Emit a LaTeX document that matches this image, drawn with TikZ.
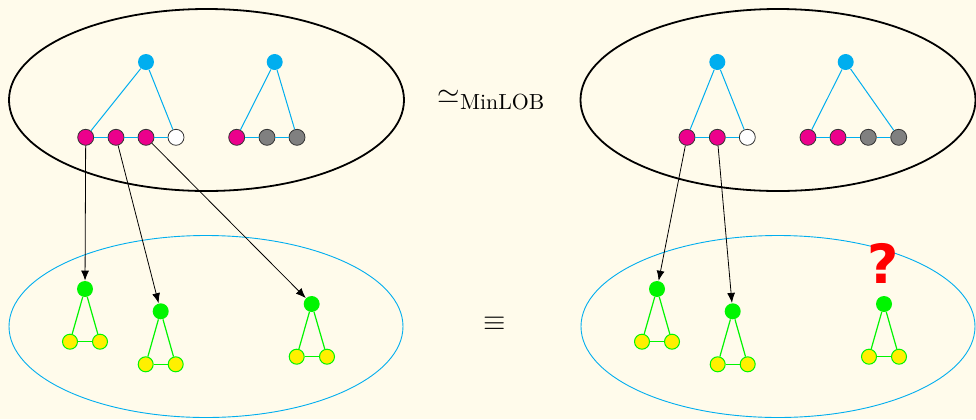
\documentclass[tikz,border=0pt]{standalone}
\usepackage{amsmath,amssymb}
\usepackage{fontspec}
\newfontfamily\qmarkfont{DejaVu Sans}
\usetikzlibrary{arrows.meta}

\definecolor{bgcream}{RGB}{255,251,235}
\definecolor{tcyan}{RGB}{0,174,239}
\definecolor{tmagenta}{RGB}{236,0,140}
\definecolor{tgreen}{RGB}{0,245,0}
\definecolor{tyellow}{RGB}{255,240,0}
\definecolor{tgray}{RGB}{128,128,128}

\tikzset{
  vtx/.style={circle,inner sep=0pt,minimum size=8pt},
  root/.style={vtx,fill=tcyan},
  lab/.style={vtx,draw=black!80,line width=0.4pt,fill=#1},
  groot/.style={vtx,fill=tgreen},
  leaf/.style={vtx,draw=tgreen,line width=0.5pt,fill=tyellow,minimum size=7.5pt},
  tedge/.style={tcyan,line width=0.5pt},
  gedge/.style={tgreen,line width=0.6pt},
  emb/.style={-{Latex[length=5pt,width=4pt]},line width=0.4pt}
}

\begin{document}
\begin{tikzpicture}[x=0.5pt,y=-0.5pt]
  \fill[bgcream] (0,0) rectangle (976,419);
  \useasboundingbox (0,0) rectangle (976,419);

  % Ellipses: labelled trees above, unlabelled trees below.
  \draw[line width=0.9pt] (206.5,100) ellipse [x radius=197.5, y radius=91];
  \draw[line width=0.9pt] (778,100) ellipse [x radius=197.5, y radius=91];
  \draw[tcyan,line width=0.45pt] (206,326.5) ellipse [x radius=197, y radius=91];
  \draw[tcyan,line width=0.45pt] (778,326.5) ellipse [x radius=197, y radius=91];

  % Top left: two labelled trees.
  \node[root] (r1) at (146,62) {};
  \node[lab=tmagenta] (a1) at (85.7,137.3) {};
  \node[lab=tmagenta] (a2) at (116,137.3) {};
  \node[lab=tmagenta] (a3) at (146,137.3) {};
  \node[lab=white]    (a4) at (176,137.3) {};
  \draw[tedge] (r1) -- (a1);
  \draw[tedge] (r1) -- (a4);
  \draw[tedge] (a1) -- (a2) -- (a3) -- (a4);

  \node[root] (r2) at (274.7,62) {};
  \node[lab=tmagenta] (b1) at (236.7,137.3) {};
  \node[lab=tgray]    (b2) at (267,137.3) {};
  \node[lab=tgray]    (b3) at (297,137.3) {};
  \draw[tedge] (r2) -- (b1);
  \draw[tedge] (r2) -- (b3);
  \draw[tedge] (b1) -- (b2) -- (b3);

  % Top right: two labelled trees.
  \node[root] (r3) at (717.3,62) {};
  \node[lab=tmagenta] (c1) at (687,137.3) {};
  \node[lab=tmagenta] (c2) at (717.3,137.3) {};
  \node[lab=white]    (c3) at (747.3,137.3) {};
  \draw[tedge] (r3) -- (c1);
  \draw[tedge] (r3) -- (c3);
  \draw[tedge] (c1) -- (c2) -- (c3);

  \node[root] (r4) at (845.7,62) {};
  \node[lab=tmagenta] (d1) at (808,137.3) {};
  \node[lab=tmagenta] (d2) at (838,137.3) {};
  \node[lab=tgray]    (d3) at (868.3,137.3) {};
  \node[lab=tgray]    (d4) at (898.7,137.3) {};
  \draw[tedge] (r4) -- (d1);
  \draw[tedge] (r4) -- (d4);
  \draw[tedge] (d1) -- (d2) -- (d3) -- (d4);

  % Bottom left: three small trees.
  \node[groot] (g1) at (85,289) {};
  \node[leaf] (g1l) at (70,341.7) {};
  \node[leaf] (g1r) at (100,341.7) {};
  \node[groot] (g2) at (160.7,311.3) {};
  \node[leaf] (g2l) at (145.7,364.3) {};
  \node[leaf] (g2r) at (175.7,364.3) {};
  \node[groot] (g3) at (311.7,304) {};
  \node[leaf] (g3l) at (296.7,356.7) {};
  \node[leaf] (g3r) at (327,356.7) {};

  % Bottom right: three small trees.
  \node[groot] (h1) at (657,289) {};
  \node[leaf] (h1l) at (642,341.7) {};
  \node[leaf] (h1r) at (672,341.7) {};
  \node[groot] (h2) at (732.7,311.3) {};
  \node[leaf] (h2l) at (717.7,364.3) {};
  \node[leaf] (h2r) at (747.7,364.3) {};
  \node[groot] (h3) at (884,304) {};
  \node[leaf] (h3l) at (869,356.7) {};
  \node[leaf] (h3r) at (899,356.7) {};

  \foreach \t in {g1,g2,g3,h1,h2,h3}{
    \draw[gedge] (\t) -- (\t l);
    \draw[gedge] (\t) -- (\t r);
    \draw[gedge] (\t l) -- (\t r);
  }

  % Embeddings.
  \draw[emb] (a1) -- (g1);
  \draw[emb] (a2) -- (g2);
  \draw[emb] (a3) -- (g3);
  \draw[emb] (c1) -- (h1);
  \draw[emb] (c2) -- (h2);

  \node (iso) at (491.5,100) {\fontsize{15.6}{18}\selectfont$\simeq_{\mathrm{MinLOB}}$};
  \node (eqv) at (495,324.3) {\fontsize{15.6}{18}\selectfont$\equiv$};
  \node[text=red] (qm) at (883.5,263.5) {\qmarkfont\fontsize{27}{30}\selectfont\bfseries ?};
\end{tikzpicture}
\end{document}
